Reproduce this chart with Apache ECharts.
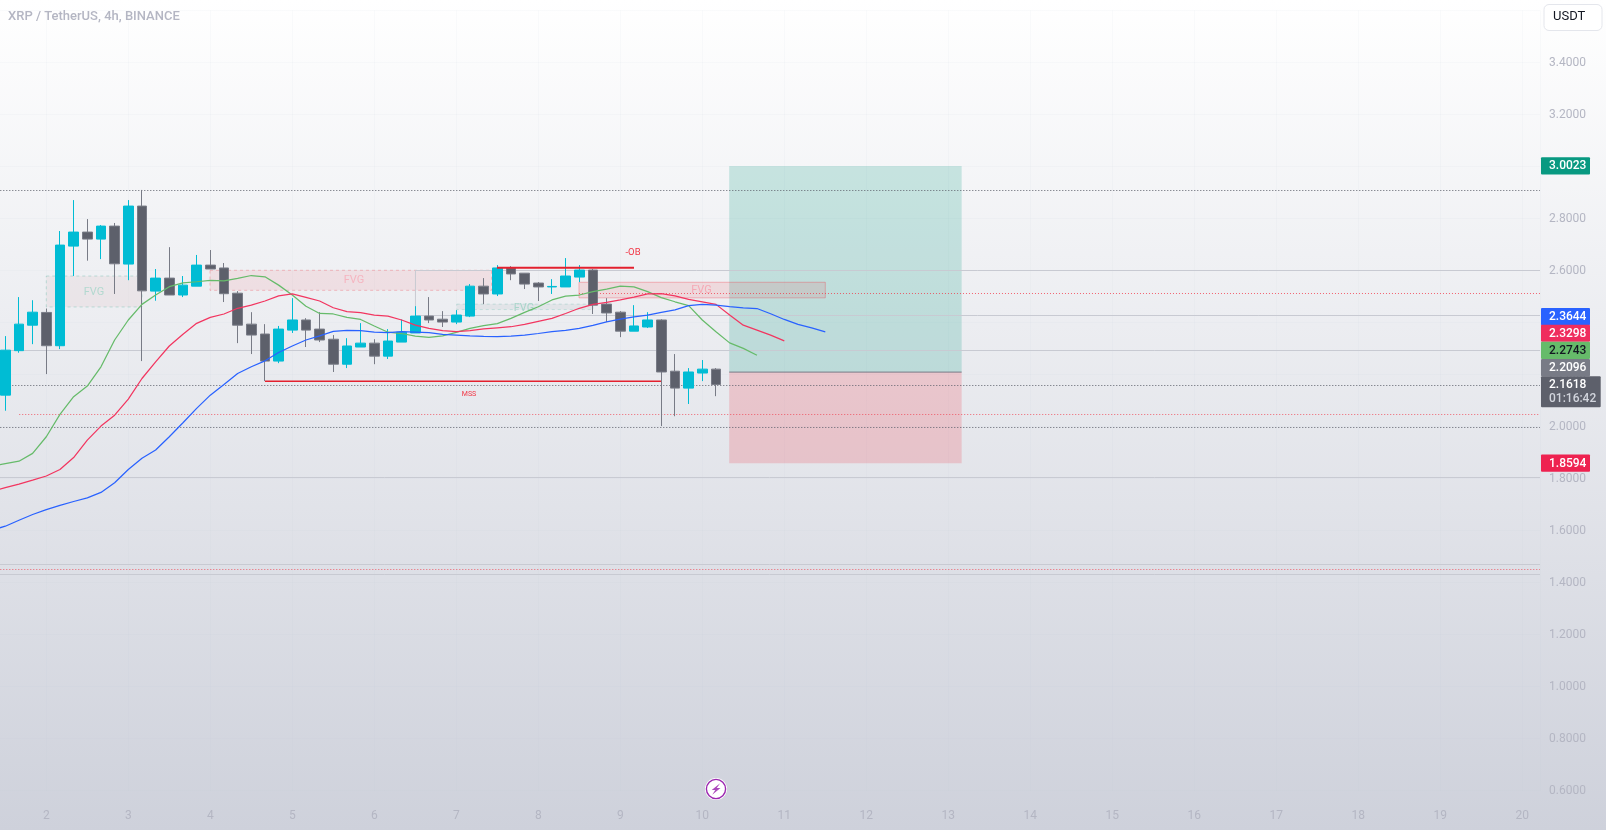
<!DOCTYPE html>
<html><head><meta charset="utf-8">
<style>html,body{margin:0;padding:0;background:#fff}#c{width:1606px;height:830px}</style>
<script src="https://cdn.jsdelivr.net/npm/echarts@6/dist/echarts.min.js"></script>
</head><body><div id="c"></div>
<script>
// Candles: 4h bars, six per day, first bar at day 1.5
const candleFirstDay = 1.5;
const opens = [2.121,2.292,2.390,2.439,2.311,2.694,2.748,2.721,2.771,2.625,
2.848,2.521,2.571,2.506,2.540,2.621,2.610,2.513,2.394,2.356,
2.252,2.371,2.410,2.375,2.336,2.240,2.306,2.321,2.271,2.325,
2.360,2.425,2.413,2.402,2.425,2.540,2.510,2.610,2.590,2.552,
2.537,2.537,2.575,2.602,2.471,2.440,2.367,2.383,2.410,2.213,
2.148,2.206,2.221];
const closes = [2.294,2.394,2.440,2.311,2.698,2.748,2.721,2.771,2.626,2.848,
2.522,2.571,2.506,2.544,2.621,2.606,2.511,2.390,2.352,2.252,
2.375,2.410,2.371,2.333,2.240,2.310,2.321,2.271,2.329,2.363,
2.425,2.410,2.402,2.429,2.540,2.510,2.610,2.587,2.548,2.537,
2.539,2.579,2.602,2.467,2.437,2.367,2.387,2.410,2.210,2.148,
2.210,2.221,2.1618];
const lows = [2.061,2.284,2.317,2.202,2.298,2.579,2.638,2.644,2.510,2.563,
2.252,2.484,2.506,2.498,2.540,2.606,2.479,2.321,2.279,2.175,
2.244,2.360,2.306,2.325,2.210,2.225,2.306,2.240,2.260,2.325,
2.360,2.398,2.383,2.394,2.421,2.471,2.502,2.563,2.529,2.483,
2.510,2.537,2.556,2.433,2.402,2.344,2.367,2.379,2.002,2.040,
2.087,2.175,2.117];
const highs = [2.348,2.498,2.486,2.454,2.752,2.871,2.798,2.775,2.783,2.871,
2.910,2.606,2.690,2.579,2.660,2.679,2.629,2.521,2.440,2.394,
2.387,2.494,2.417,2.440,2.352,2.340,2.398,2.336,2.375,2.412,
2.463,2.498,2.444,2.448,2.548,2.571,2.621,2.617,2.590,2.556,
2.567,2.648,2.621,2.606,2.494,2.444,2.467,2.440,2.413,2.279,
2.225,2.256,2.225];
// Alligator lines, one value per bar, first at day 2 - 4/6
const maFirstDay = 2 - 4/6;
const lipsGreen = [1.848,1.858,1.867,1.897,1.961,2.047,2.115,2.156,2.230,2.333,
2.410,2.470,2.506,2.538,2.553,2.557,2.562,2.560,2.570,2.581,
2.576,2.544,2.506,2.463,2.435,2.433,2.420,2.412,2.387,2.363,
2.358,2.348,2.343,2.349,2.362,2.378,2.388,2.396,2.416,2.439,
2.461,2.487,2.502,2.506,2.519,2.529,2.540,2.537,2.519,2.496,
2.480,2.465,2.410,2.365,2.322,2.301,2.2743];
const teethRed = [1.751,1.765,1.779,1.794,1.810,1.835,1.881,1.948,2.002,2.044,
2.106,2.185,2.249,2.310,2.355,2.397,2.420,2.433,2.455,2.467,
2.483,2.503,2.510,2.497,2.483,2.457,2.442,2.438,2.429,2.425,
2.410,2.390,2.378,2.369,2.365,2.369,2.376,2.380,2.384,2.393,
2.405,2.416,2.435,2.455,2.470,2.478,2.487,2.498,2.510,2.511,
2.503,2.489,2.480,2.470,2.429,2.390,2.371,2.352,2.3298];
const jawBlue = [1.602,1.617,1.640,1.662,1.681,1.697,1.712,1.726,1.747,1.784,
1.835,1.878,1.910,1.961,2.015,2.070,2.121,2.162,2.204,2.230,
2.253,2.285,2.310,2.333,2.349,2.366,2.370,2.369,2.363,2.361,
2.365,2.363,2.361,2.355,2.352,2.349,2.347,2.346,2.348,2.352,
2.358,2.365,2.370,2.378,2.389,2.403,2.413,2.422,2.429,2.439,
2.449,2.465,2.470,2.467,2.461,2.457,2.454,2.434,2.412,2.393,
2.380,2.3644];
// Horizontal levels: [from day (null = axis start), price, kind]
const levels = [
 [null,2.909,'dark'],[null,2.1618,'dark'],[null,2.000,'dark'],
 [null,2.293,'grey'],[null,1.805,'grey'],[null,1.470,'grey'],[null,1.435,'grey'],
 [6.502,2.601,'grey'],[6.502,2.428,'grey'],
 [1.670,2.047,'red'],[8.496,2.512,'red'],[null,1.451,'red']
];
const vSegments = [[6.502,2.601,2.428]];
const zones = [
 [10.328,13.163,3.0023,2.2096,'profit'],
 [10.328,13.163,2.2096,1.8594,'loss'],
 [2.0,3.167,2.579,2.460,'fvgG'],
 [3.996,7.430,2.601,2.524,'fvgR'],
 [7.005,8.667,2.471,2.450,'fvgS'],
 [8.496,11.500,2.555,2.495,'fvgB']
];
const zoneTexts = [
 ['FVG',2.582,2.515,'#B3D9D0',11],['FVG',5.752,2.561,'#F5B5C0',11],
 ['FVG',7.826,2.457,'#A8D5CA',11],['FVG',9.990,2.525,'#F5A9B5',11],
 ['-OB',9.155,2.668,'#F23645',9.5],['MSS',7.155,2.126,'#F23645',7]
];
const rays = [[7.496,9.167,2.611,2],[4.667,9.496,2.174,1.5]];
const entryLine = [10.328,13.163,2.2096];
const dayLabels = [2,3,4,5,6,7,8,9,10,11,12,13,14,15,16,17,18,19,20];
const priceTicks = [0.6,0.8,1.0,1.2,1.4,1.6,1.8,2.0,2.2,2.4,2.6,2.8,3.0,3.2,3.4];
const badges = [
 [3.0023,'3.0023','#089981','#fff',0],[2.3644,'2.3644','#2962FF','#fff',-15.3],
 [2.3298,'2.3298','#EF2D5E','#fff',-7.6],[2.2743,'2.2743','#66BB6A','#131722',-4.9],
 [2.2096,'2.2096','#787B86','#fff',-4.4],[1.8594,'1.8594','#EE2250','#fff',0]
];
const lastPrice = [2.1618,'2.1618','01:16:42'];

const FONT = 'Roboto';
const zoneStyle = {
 profit:{fill:'rgba(8,153,129,0.2)',stroke:null},
 loss:{fill:'rgba(242,54,69,0.2)',stroke:null},
 fvgG:{fill:'rgba(226,205,210,0.28)',stroke:'rgba(8,153,129,0.22)',dash:[3,3]},
 fvgR:{fill:'rgba(242,54,69,0.09)',stroke:'rgba(242,54,69,0.28)',dash:[3,3]},
 fvgS:{fill:'rgba(160,170,175,0.14)',stroke:'rgba(8,153,129,0.16)',dash:[3,3]},
 fvgB:{fill:'rgba(242,54,69,0.12)',stroke:'rgba(242,54,69,0.32)'}
};
const levelStyle = {
 dark:{stroke:'#5D606B',lineWidth:1,lineDash:[1,2]},
 grey:{stroke:'#C8CAD2',lineWidth:1},
 red:{stroke:'rgba(242,54,69,0.75)',lineWidth:1,lineDash:[1,2]}
};
const xMin = 1, xMax = 20.2159, yMin = 0.6, yMax = 3.6;
const pts = (arr, first) => arr.map((v,i)=>[first+i/6, v]);

const zoneSeries = {
 type:'custom', z:1, silent:true, clip:true,
 data:zones.map(z=>[z[0],z[2]]),
 renderItem(p,api){
  const z=zones[p.dataIndex], a=api.coord([z[0],z[2]]), b=api.coord([z[1],z[3]]), s=zoneStyle[z[4]];
  return {type:'rect',shape:{x:a[0],y:a[1],width:b[0]-a[0],height:b[1]-a[1]},
   style:{fill:s.fill,stroke:s.stroke,lineWidth:s.stroke?1:0,lineDash:s.dash||null}};
 }
};
const levelSeries = {
 type:'custom', z:1, silent:true, clip:true,
 data:levels.map(l=>[l[0]==null?xMin:l[0],l[1]]),
 renderItem(p,api){
  const l=levels[p.dataIndex];
  const a=api.coord([l[0]==null?xMin:l[0],l[1]]), b=api.coord([xMax,l[1]]);
  return {type:'line',shape:{x1:a[0],y1:Math.round(a[1])+.5,x2:b[0],y2:Math.round(a[1])+.5},style:Object.assign({fill:null},levelStyle[l[2]])};
 }
};
const vSeries = {
 type:'custom', z:1, silent:true,
 data:vSegments.map(v=>[v[0],v[1]]),
 renderItem(p,api){
  const v=vSegments[p.dataIndex], a=api.coord([v[0],v[1]]), b=api.coord([v[0],v[2]]);
  return {type:'line',shape:{x1:a[0],y1:a[1],x2:b[0],y2:b[1]},style:{stroke:'#C8CAD2',lineWidth:1}};
 }
};
const raySeries = {
 type:'custom', z:4, silent:true,
 data:rays.map(r=>[r[0],r[2]]),
 renderItem(p,api){
  const r=rays[p.dataIndex], a=api.coord([r[0],r[2]]), b=api.coord([r[1],r[2]]);
  return {type:'line',shape:{x1:a[0],y1:a[1],x2:b[0],y2:b[1]},style:{stroke:'#E3202E',lineWidth:r[3]}};
 }
};
const entrySeries = {
 type:'custom', z:2, silent:true,
 data:[[entryLine[0],entryLine[2]]],
 renderItem(p,api){
  const a=api.coord([entryLine[0],entryLine[2]]), b=api.coord([entryLine[1],entryLine[2]]);
  return {type:'line',shape:{x1:a[0],y1:a[1],x2:b[0],y2:b[1]},style:{stroke:'#787B86',lineWidth:1}};
 }
};
const textSeries = {
 type:'custom', z:2, silent:true,
 data:zoneTexts.map(t=>[t[1],t[2]]),
 renderItem(p,api){
  const t=zoneTexts[p.dataIndex], a=api.coord([t[1],t[2]]);
  return {type:'text',x:a[0],y:a[1],style:{text:t[0],fill:t[3],font:t[4]+'px '+FONT,textAlign:'center',textVerticalAlign:'middle'}};
 }
};
const badgeSeries = {
 type:'custom', z:20, silent:true, clip:false,
 data:badges.map(b=>[xMax,b[0]]),
 renderItem(p,api){
  const b=badges[p.dataIndex], a=api.coord([xMax,b[0]]), cy=a[1]+b[4];
  return {type:'group',children:[
   {type:'rect',shape:{x:a[0]+1,y:cy-8.6,width:49,height:17.2,r:1},style:{fill:b[2]}},
   {type:'text',x:a[0]+9,y:cy+0.5,style:{text:b[1],fill:b[3],font:'500 12px '+FONT,textAlign:'left',textVerticalAlign:'middle'}}
  ]};
 }
};
const lastSeries = {
 type:'custom', z:21, silent:true, clip:false,
 data:[[xMax,lastPrice[0]]],
 renderItem(p,api){
  const a=api.coord([xMax,lastPrice[0]]);
  return {type:'group',children:[
   {type:'rect',shape:{x:a[0]+1,y:a[1]-8.4,width:59.7,height:31,r:1},style:{fill:'#5D606B'}},
   {type:'text',x:a[0]+9,y:a[1]+0.5,style:{text:lastPrice[1],fill:'#fff',font:'500 12px '+FONT,textAlign:'left',textVerticalAlign:'middle'}},
   {type:'text',x:a[0]+9,y:a[1]+14.5,style:{text:lastPrice[2],fill:'#D1D4DC',font:'500 12px '+FONT,textAlign:'left',textVerticalAlign:'middle'}}
  ]};
 }
};
const maLine = (name,arr,first,color) => ({type:'line',name,data:pts(arr,first),z:3,showSymbol:false,symbol:'none',silent:true,
 lineStyle:{color,width:1.25},itemStyle:{color},animation:false});

const chart = echarts.init(document.getElementById('c'),null,{renderer:'canvas'});
chart.setOption({
 animation:false,
 backgroundColor:{type:'linear',x:0,y:0,x2:0,y2:1,colorStops:[{offset:0,color:'#FFFFFF'},{offset:1,color:'#CED1DB'}]},
 title:{text:'XRP / TetherUS, 4h, BINANCE',left:8,top:10,padding:0,textStyle:{color:'#B4B6C3',fontSize:13,fontWeight:500,fontFamily:FONT}},
 grid:{left:-35.7,right:66,top:10.5,bottom:39.3,containLabel:false,outerBoundsMode:'none'},
 xAxis:{type:'value',min:xMin,max:xMax,interval:1,
  axisLine:{show:false},axisTick:{show:false},
  splitLine:{show:true,lineStyle:{color:'rgba(190,195,208,0.07)',width:1}},
  axisLabel:{margin:19,color:'#B4B6C3',fontSize:12,fontFamily:FONT,showMinLabel:false,showMaxLabel:false,
   formatter:v=>dayLabels.includes(v)?String(v):''}},
 yAxis:{type:'value',position:'right',min:yMin,max:yMax,interval:0.2,
  axisLine:{show:false},axisTick:{show:false},
  splitLine:{show:true,lineStyle:{color:'rgba(190,195,208,0.07)',width:1}},
  axisLabel:{margin:9,color:'#B4B6C3',fontSize:12,fontFamily:FONT,padding:[2,0,0,0],
   formatter:v=>priceTicks.some(t=>Math.abs(t-v)<1e-6)?v.toFixed(4):''}},
 series:[
  zoneSeries,levelSeries,vSeries,entrySeries,textSeries,
  {type:'candlestick',z:2,silent:true,barWidth:10,clip:true,
   data:opens.map((o,i)=>[candleFirstDay+i/6,o,closes[i],lows[i],highs[i]]),
   itemStyle:{color:'#00BCD4',color0:'#5D606B',borderColor:'#00BCD4',borderColor0:'#787B86',borderWidth:1}},
  maLine('Lips',lipsGreen,maFirstDay,'#66BB6A'),
  maLine('Teeth',teethRed,maFirstDay,'#F23660'),
  maLine('Jaw',jawBlue,maFirstDay,'#2962FF'),
  raySeries,badgeSeries,lastSeries
 ],
 graphic:[
  {type:'rect',left:1543.5,top:4,z:30,shape:{width:58,height:26,r:5},style:{fill:'#fff',stroke:'#E4E6EC',lineWidth:1}},
  {type:'text',left:1553,top:10,z:31,style:{text:'USDT',fill:'#131722',font:'13px '+FONT}},
  {type:'group',left:705,top:778,z:30,children:[
   {type:'circle',shape:{cx:11.3,cy:11.3,r:11},style:{fill:'#fff'}},
   {type:'circle',shape:{cx:11.3,cy:11.3,r:9.6},style:{fill:'#fff',stroke:'#9C27B0',lineWidth:1.4}},
   {type:'polygon',shape:{points:[[15.5,5.5],[7,12.3],[10.6,12.3],[7.5,17],[15.8,10.2],[12,10.2]]},style:{fill:'#AB47BC'}}
  ]}
 ]
});
</script></body></html>
